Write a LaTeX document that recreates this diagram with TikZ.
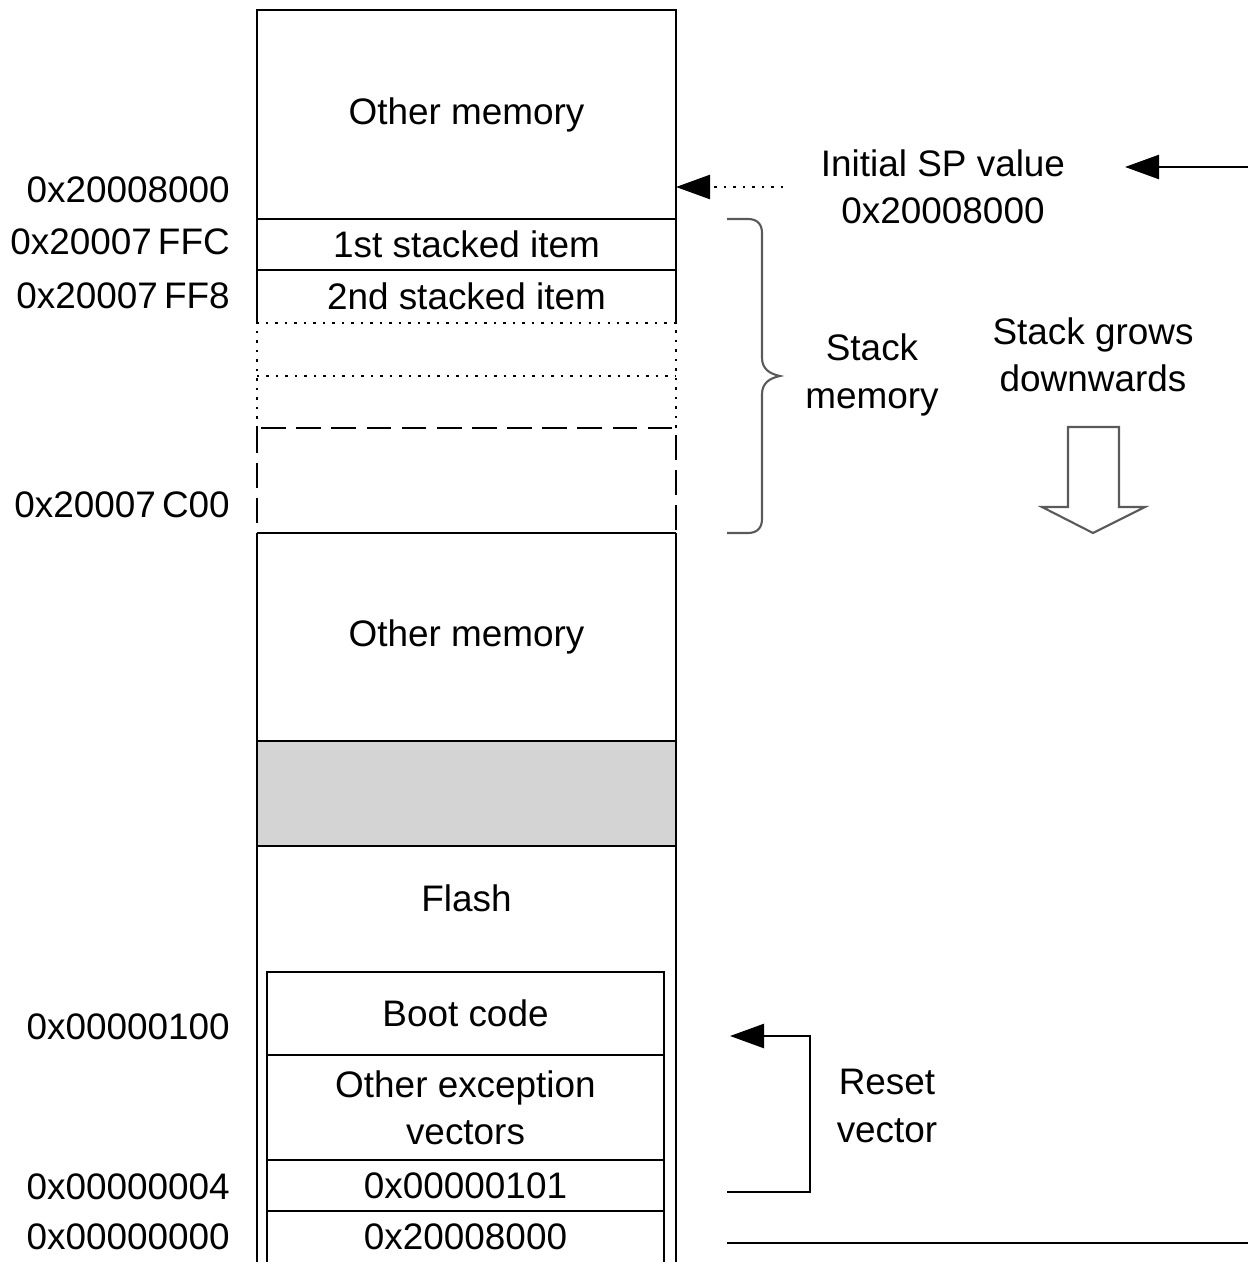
\documentclass[tikz,border=0pt]{standalone}
\usepackage{fontspec}
\setmainfont{Liberation Sans}
\usepackage{tikz}
\usetikzlibrary{arrows.meta,positioning}
\definecolor{memgrey}{RGB}{212,212,212}
\definecolor{inkgrey}{RGB}{90,90,90}

\begin{document}
\begin{tikzpicture}[
  font=\fontsize{10.5}{13.4}\selectfont,
  line width=0.7pt,
  cell/.style={rectangle, minimum width=4.19cm, inner sep=0pt, outer sep=0pt, align=center},
  vcell/.style={rectangle, minimum width=3.97cm, inner sep=0pt, outer sep=0pt, align=center},
  addr/.style={anchor=east, inner sep=0pt},
  note/.style={align=center, inner sep=0pt},
  >={Triangle[length=3.4mm,width=2.4mm]},
  arrline/.style={->, line width=0.7pt},
]
\useasboundingbox (0,0) rectangle (12.48,-12.62);
% memory column
\node[cell, minimum height=2.09cm] (mem1) at (4.665,-1.145) {Other memory};
\node[cell, minimum height=0.51cm] (item1) at (4.665,-2.445) {1st stacked item};
\node[cell, minimum height=0.53cm] (item2) at (4.665,-2.965) {2nd stacked item};
\node[cell, minimum height=0.53cm] (free1) at (4.665,-3.495) {};
\node[cell, minimum height=0.52cm] (free2) at (4.665,-4.02) {};
\node[cell, minimum height=1.05cm] (free3) at (4.665,-4.805) {};
\node[cell, minimum height=2.08cm] (mem2) at (4.665,-6.37) {Other memory};
\node[cell, minimum height=1.05cm] (grey) at (4.665,-7.935) {};
\node[cell, minimum height=4.16cm] (flash) at (4.665,-10.54) {};
\node (flashtxt) at (4.665,-8.98) {Flash};
% vector table
\node[vcell, minimum height=0.83cm] (boot) at (4.655,-10.135) {Boot code};
\node[vcell, minimum height=1.05cm] (exc) at (4.655,-11.075) {Other exception\\vectors};
\node[vcell, minimum height=0.51cm] (rst) at (4.655,-11.855) {0x00000101};
\node[vcell, minimum height=0.51cm] (spv) at (4.655,-12.365) {0x20008000};

\draw (item2.south west) |- (mem1.north east) -- (item2.south east);
\draw (mem1.south west) -- (mem1.south east);
\draw (item1.south west) -- (item1.south east);
\draw[dotted] (free2.south west) |- (free1.north east) -- (free2.south east);
\draw[dotted] (free1.south west) -- (free1.south east);
\draw[dash pattern=on 7pt off 3pt] (free3.north west) rectangle (free3.south east);
\draw (free3.south west) -- (flash.south west);
\draw (free3.south east) -- (flash.south east);
\draw (free3.south west) -- (free3.south east);
\draw (mem2.south west) -- (mem2.south east);
\draw[fill=memgrey] (grey.north west) rectangle (grey.south east);
\draw (spv.south west) |- (boot.north east) -- (spv.south east);
\draw (boot.south west) -- (boot.south east);
\draw (exc.south west) -- (exc.south east);
\draw (rst.south west) -- (rst.south east);

% addresses
\node[addr] (a8000) at (2.31,-1.90) {0x20008000};
\node[addr] (affc) at (2.31,-2.42) {0x20007\,FFC};
\node[addr] (aff8) at (2.31,-2.96) {0x20007\,FF8};
\node[addr] (ac00) at (2.31,-5.05) {0x20007\,C00};
\node[addr] (a100) at (2.31,-10.27) {0x00000100};
\node[addr] (a004) at (2.31,-11.87) {0x00000004};
\node[addr] (a000) at (2.31,-12.37) {0x00000000};

% right side notes
\node[note] (spval) at (9.43,-1.87) {Initial SP value\\0x20008000};
\node[note] (stackmem) at (8.72,-3.75) {Stack\\memory};
\node[note] (grows) at (10.93,-3.55) {Stack grows\\downwards};
\node[note] (rstvec) at (8.87,-11.06) {Reset\\vector};

\coordinate (sptail) at (7.83,-1.87);
\coordinate (rtop) at (12.48,-1.67);
\coordinate (sptip) at (11.25,-1.67);
\coordinate (rstout) at (7.27,-11.92);
\coordinate (rsttip) at (7.30,-10.36);
\coordinate (spout) at (7.27,-12.43);
\coordinate (rbot) at (12.48,-12.43);

\draw[arrline, dotted] (sptail) -- (mem1.east |- sptail);
\draw[arrline] (rtop) -- (sptip);
\draw[arrline] (rstout) -- ++(0.83,0) |- (rsttip);
\draw (spout) -- (rbot);

% brace and growth arrow
\draw[inkgrey, line width=0.6pt] (7.27,-2.19) -- (7.48,-2.19)
  .. controls (7.57,-2.19) and (7.62,-2.24) .. (7.62,-2.33) -- (7.62,-3.58)
  .. controls (7.62,-3.69) and (7.70,-3.74) .. (7.80,-3.76)
  .. controls (7.70,-3.78) and (7.62,-3.83) .. (7.62,-3.94) -- (7.62,-5.19)
  .. controls (7.62,-5.28) and (7.57,-5.33) .. (7.48,-5.33) -- (7.27,-5.33);
\draw[inkgrey, line width=0.6pt] (10.68,-4.27) -- (11.19,-4.27) -- (11.19,-5.07)
  -- (11.45,-5.07) -- (10.93,-5.33) -- (10.42,-5.07) -- (10.68,-5.07) -- cycle;
\end{tikzpicture}
\end{document}
